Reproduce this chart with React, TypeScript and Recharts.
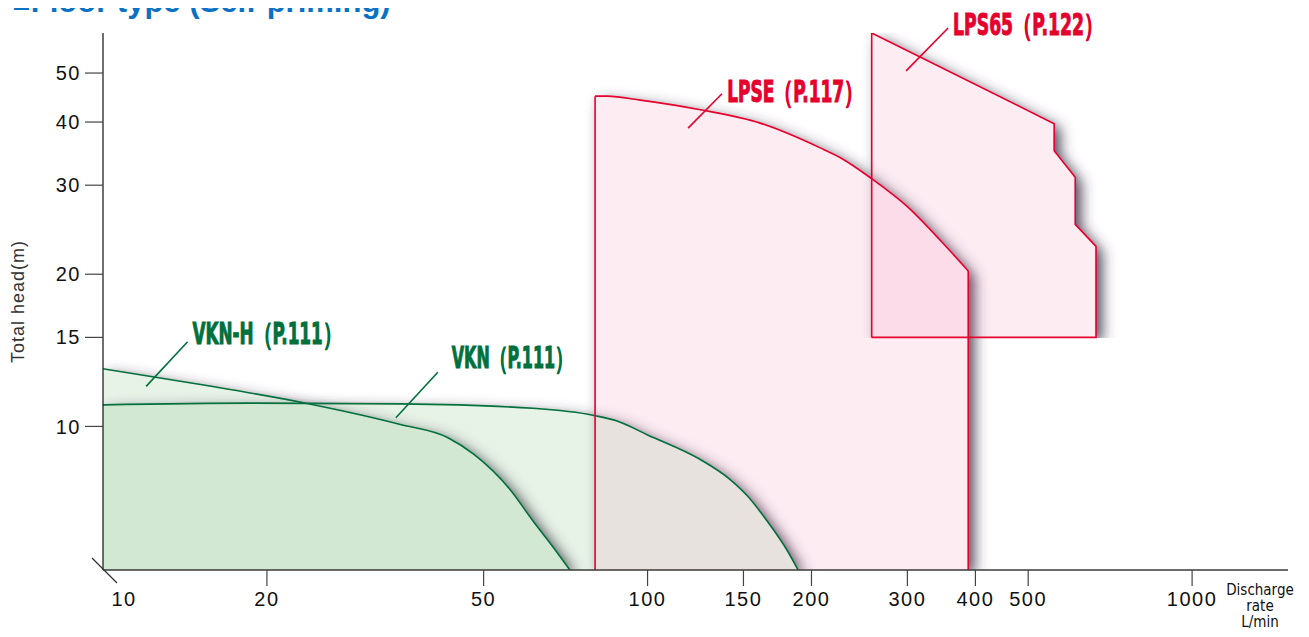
import React from 'react';
import { ComposedChart, Area, Line, XAxis, YAxis, ReferenceLine, ReferenceDot } from 'recharts';

// axis ticks
const xTicks = [10, 20, 50, 100, 150, 200, 300, 400, 500, 1000];
const yTicks = [10, 15, 20, 30, 40, 50];

// performance ranges (L/min, m)
const vknH = [
  { x: 10, y: 13.0 }, { x: 15.1, y: 12.1 }, { x: 23.7, y: 11.1 }, { x: 35, y: 10.1 },
  { x: 43, y: 9.5 }, { x: 48, y: 8.8 }, { x: 55.9, y: 7.5 }, { x: 61.6, y: 6.5 },
  { x: 67.1, y: 5.77 }, { x: 72, y: 5.2 },
];
const vkn = [
  { x: 10, y: 11.03 }, { x: 18.6, y: 11.12 }, { x: 35.1, y: 11.08 }, { x: 61.6, y: 10.86 },
  { x: 80.1, y: 10.5 }, { x: 87.9, y: 10.25 }, { x: 100, y: 9.62 }, { x: 125, y: 8.6 },
  { x: 141.8, y: 7.85 }, { x: 152.3, y: 7.3 }, { x: 165.8, y: 6.5 }, { x: 180.4, y: 5.69 },
  { x: 189, y: 5.2 },
];
const lpse = [
  { x: 80.1, y: 45 }, { x: 84.3, y: 45 }, { x: 97, y: 44.2 }, { x: 125, y: 42.3 },
  { x: 161, y: 39.8 }, { x: 207, y: 35.6 }, { x: 226, y: 34.0 }, { x: 258, y: 30.9 },
  { x: 300, y: 27.2 }, { x: 344, y: 23.4 }, { x: 388, y: 20.3 },
];
const lps65 = [
  { x: 258, y: 60 }, { x: 558, y: 39.7 }, { x: 558, y: 35.1 }, { x: 610, y: 31.1 },
  { x: 610, y: 25.1 }, { x: 666, y: 22.7 }, { x: 666, y: 15 },
];
const lps65Base = 15;

// annotations: text, leader line ends and label anchor (data coords)
const labelText = ['VKN-H（P.111）', 'VKN（P.111）', 'LPSE（P.117）', 'LPS65（P.122）'];
const leaderFrom = [[12.0, 12.0], [34.5, 10.4], [118.7, 38.9], [298.4, 50.5]];
const leaderTo = [[14.3, 14.7], [41.2, 12.8], [137, 45.5], [356.4, 61.4]];
const labelAt = [[14.6, 15.3], [43.7, 13.7], [140, 46.1], [364, 62.6]];

const X_MIN = 10;
const X_MAX = 1500;
const Y_MIN = 5.2;
const Y_MAX = 60;

const GREEN = '#00703c';
const RED = '#e6002d';
const labelColor = [GREEN, GREEN, RED, RED];
const labelWidth = [149, 121, 136, 150];

const tickFont = "'Liberation Sans', Arial, sans-serif";
const narrowFont = "'Liberation Sans Narrow', 'DejaVu Sans Condensed', sans-serif";
const X_TICK = 16;

const XTick = (props: any) => {
  const { x, y, payload } = props;
  const first = payload.value === xTicks[0];
  const axisY = y - X_TICK - 2;
  return (
    <g>
      {first ? (
        <line x1={x - 11} y1={axisY - 12} x2={x + 14} y2={axisY + 13} stroke="#333" strokeWidth={1.2} />
      ) : (
        <line x1={x} y1={axisY} x2={x} y2={axisY + X_TICK} stroke="#444" strokeWidth={1.2} />
      )}
      <text x={first ? x + 21 : x} y={y} dy={18} textAnchor="middle" fill="#111" fontSize={20}
        fontFamily={tickFont} letterSpacing={1.5}>
        {payload.value}
      </text>
    </g>
  );
};

const XTitle = ({ viewBox }: any) => {
  const cx = viewBox.x + viewBox.width - 28;
  return (
    <text x={cx} y={viewBox.y + 25} textAnchor="middle" fill="#111" fontSize={15} fontFamily={narrowFont}>
      <tspan x={cx} dy={0}>Discharge</tspan>
      <tspan x={cx} dy={16}>rate</tspan>
      <tspan x={cx} dy={16}>L/min</tspan>
    </text>
  );
};

const YTitle = ({ viewBox }: any) => {
  const cx = viewBox.x + 18;
  const cy = viewBox.y + viewBox.height / 2;
  return (
    <text x={cx} y={cy} transform={`rotate(-90 ${cx} ${cy})`} textAnchor="middle" dominantBaseline="central"
      fill="#333" fontSize={18} letterSpacing={1} fontFamily={tickFont}>
      Total head(m)
    </text>
  );
};

const makeLabel = (i: number) => ({ viewBox }: any) => (
  <text x={viewBox.x} y={viewBox.y + 11} fill={labelColor[i]} fontSize={30} fontWeight={700}
    stroke={labelColor[i]} strokeWidth={1}
    textLength={labelWidth[i]} lengthAdjust="spacingAndGlyphs" fontFamily={narrowFont}>
    {labelText[i]}
  </text>
);

const greenFill = '#228b22';
const pinkFill = '#e63c78';

export default function App() {
  const lpseLeft = [{ x: lpse[0].x, y: Y_MIN }, lpse[0]];
  const lpseRight = [lpse[lpse.length - 1], { x: lpse[lpse.length - 1].x, y: Y_MIN }];
  const lps65Outline = [{ x: lps65[0].x, y: lps65Base }, ...lps65, { x: lps65[0].x, y: lps65Base }];
  const series = [vknH, vkn, lpse];

  return (
    <div style={{ position: 'relative', width: 1309, height: 637, margin: -8, overflow: 'hidden' }}>
      <style>{`.shadow-area path { filter: url(#softShadow); }`}</style>
      <div style={{
        position: 'absolute', left: 12, top: -14, fontFamily: tickFont, fontWeight: 700,
        fontSize: 31, lineHeight: '31px', color: '#0a72c6', whiteSpace: 'nowrap',
      }}>
        ■Floor type (Self-priming)
      </div>
      <ComposedChart width={1309} height={637} margin={{ top: 33, right: 21, bottom: 0, left: 0 }}>
        <defs>
          <filter id="softShadow" x="-15%" y="-15%" width="135%" height="115%">
            <feGaussianBlur in="SourceAlpha" stdDeviation="7" result="b" />
            <feOffset in="b" dx="6" dy="5" result="o" />
            <feComposite in="o" in2="SourceAlpha" operator="out" result="s" />
            <feFlood floodColor="#3c3248" floodOpacity="0.9" />
            <feComposite in2="s" operator="in" />
          </filter>
        </defs>
        <XAxis type="number" dataKey="x" scale="log" domain={[X_MIN, X_MAX]} allowDataOverflow
          ticks={xTicks} tick={<XTick />} tickLine={false} tickSize={X_TICK} height={67}
          axisLine={{ stroke: '#3a3a3a', strokeWidth: 1.5 }} label={<XTitle />} />
        <YAxis type="number" scale="log" domain={[Y_MIN, Y_MAX]} allowDataOverflow ticks={yTicks}
          width={103} tickSize={18} tickMargin={4}
          tick={{ fill: '#111', fontSize: 20, fontFamily: tickFont, letterSpacing: 1.5 }}
          tickLine={{ stroke: '#444', strokeWidth: 1.2 }}
          axisLine={{ stroke: '#222', strokeWidth: 1.3 }} label={<YTitle />} />

        {/* soft shadows */}
        {series.map((d, i) => (
          <Area key={`sh${i}`} className="shadow-area" data={d} dataKey="y" type="monotone"
            fill="#000" fillOpacity={1} stroke="none" isAnimationActive={false} />
        ))}
        <Area className="shadow-area" data={lps65} dataKey="y" type="linear" baseValue={lps65Base}
          fill="#000" fillOpacity={1} stroke="none" isAnimationActive={false} />

        {/* translucent fills */}
        <Area data={vknH} dataKey="y" type="monotone" fill={greenFill} fillOpacity={0.1} stroke="none" isAnimationActive={false} />
        <Area data={vkn} dataKey="y" type="monotone" fill={greenFill} fillOpacity={0.1} stroke="none" isAnimationActive={false} />
        <Area data={lpse} dataKey="y" type="monotone" fill={pinkFill} fillOpacity={0.09} stroke="none" isAnimationActive={false} />
        <Area data={lps65} dataKey="y" type="linear" baseValue={lps65Base} fill={pinkFill} fillOpacity={0.09}
          stroke="none" isAnimationActive={false} />

        {/* outlines */}
        <Line data={vknH} dataKey="y" type="monotone" stroke={GREEN} strokeWidth={1.6} dot={false} isAnimationActive={false} />
        <Line data={vkn} dataKey="y" type="monotone" stroke={GREEN} strokeWidth={1.6} dot={false} isAnimationActive={false} />
        <Line data={lpse} dataKey="y" type="monotone" stroke={RED} strokeWidth={1.6} dot={false} isAnimationActive={false} />
        <Line data={lpseLeft} dataKey="y" type="linear" stroke={RED} strokeWidth={1.6} dot={false} isAnimationActive={false} />
        <Line data={lpseRight} dataKey="y" type="linear" stroke={RED} strokeWidth={1.6} dot={false} isAnimationActive={false} />
        <Line data={lps65Outline} dataKey="y" type="linear" stroke={RED} strokeWidth={1.6} dot={false} isAnimationActive={false} />

        {/* leader lines and labels */}
        {labelText.map((t, i) => (
          <ReferenceLine key={`ll${i}`} ifOverflow="visible" stroke={labelColor[i]} strokeWidth={1.6}
            segment={[{ x: leaderFrom[i][0], y: leaderFrom[i][1] }, { x: leaderTo[i][0], y: leaderTo[i][1] }]} />
        ))}
        {labelText.map((t, i) => (
          <ReferenceDot key={`lb${i}`} x={labelAt[i][0]} y={labelAt[i][1]} r={0} ifOverflow="visible"
            fill="none" stroke="none" label={makeLabel(i)} />
        ))}
      </ComposedChart>
    </div>
  );
}
